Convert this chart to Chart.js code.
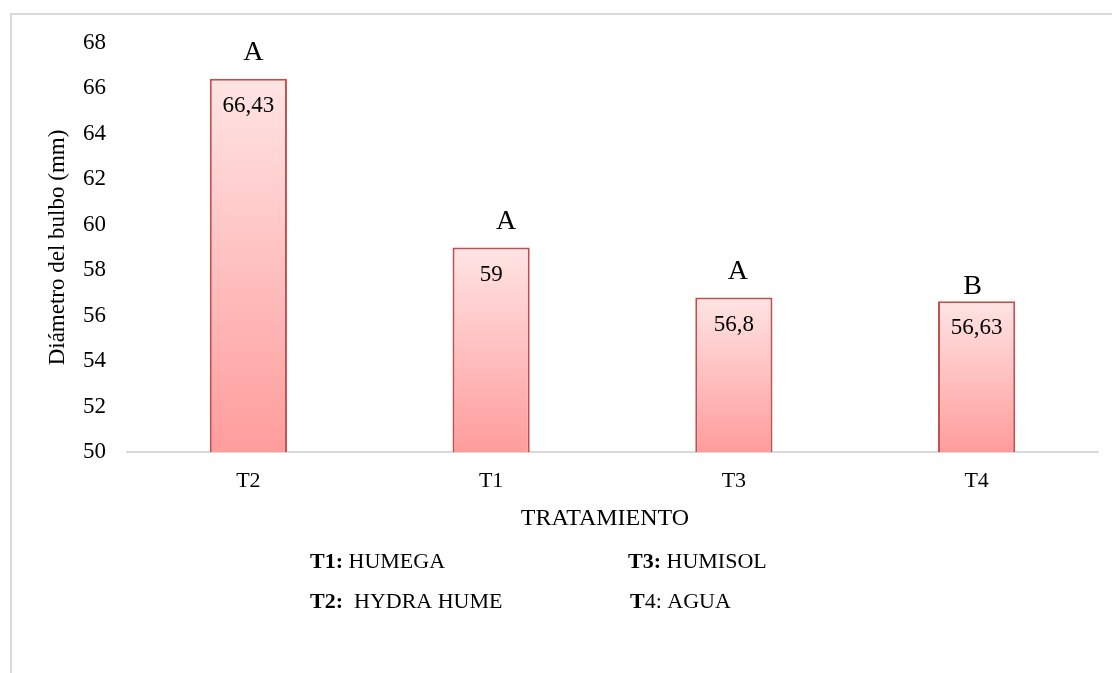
<!DOCTYPE html>
<html>
<head>
<meta charset="utf-8">
<script src="https://cdn.jsdelivr.net/npm/chart.js@4/dist/chart.umd.min.js"></script>
<style>
  html, body { margin: 0; padding: 0; background: #ffffff; }
  #wrap { width: 1112px; height: 673px; position: relative; }
</style>
</head>
<body>
<div id="wrap"><canvas id="c"></canvas></div>
<script>
// ---- data ----
const categories = ['T2', 'T1', 'T3', 'T4'];
const values = [66.43, 59, 56.8, 56.63];
const valueLabels = ['66,43', '59', '56,8', '56,63'];
const letters = ['A', 'A', 'A', 'B'];
const yMin = 50, yMax = 68, yStep = 2;
const yTitle = 'Diámetro del bulbo (mm)';
const xTitle = 'TRATAMIENTO';
const legendRows = [
  [{ b: 'T1:', n: ' HUMEGA' }, { b: 'T3:', n: ' HUMISOL' }],
  [{ b: 'T2:', n: '  HYDRA HUME' }, { b: 'T', n: '4: AGUA' }]
];

const SERIF = '"Liberation Serif", "Times New Roman", serif';

// letter label offsets (presentation only)
const letterDX = [5, 15, 4, -4];
const letterDY = [-26, -26, -26, -15];

function barGradient(ctx) {
  const chart = ctx.chart;
  const y = chart.scales && chart.scales.y;
  if (!chart.chartArea || !y || ctx.dataIndex === undefined) return '#FFC0C0';
  const v = ctx.dataset.data[ctx.dataIndex];
  const top = y.getPixelForValue(v);
  const bot = y.getPixelForValue(yMin);
  const g = chart.ctx.createLinearGradient(0, top, 0, bot);
  g.addColorStop(0, '#FFE4E4');
  g.addColorStop(1, '#FF9C9C');
  return g;
}

const decorPlugin = {
  id: 'decor',
  beforeDraw(chart) {
    const c = chart.ctx;
    c.save();
    c.fillStyle = '#ffffff';
    c.fillRect(0, 0, chart.width, chart.height);
    c.strokeStyle = '#D9D9D9';
    c.lineWidth = 2;
    c.beginPath();
    c.moveTo(11, chart.height + 5);
    c.lineTo(11, 14);
    c.lineTo(chart.width + 5, 14);
    c.stroke();
    c.restore();
  },
  afterDatasetsDraw(chart) {
    const c = chart.ctx;
    const meta = chart.getDatasetMeta(0);
    c.save();
    c.fillStyle = '#000000';
    c.textAlign = 'center';
    c.textBaseline = 'middle';
    meta.data.forEach((bar, i) => {
      c.font = '23px ' + SERIF;
      c.fillText(valueLabels[i], bar.x, bar.y + 27);
      c.font = '28px ' + SERIF;
      c.fillText(letters[i], bar.x + letterDX[i], bar.y + letterDY[i]);
    });
    c.restore();
  },
  afterDraw(chart) {
    const c = chart.ctx;
    const area = chart.chartArea;
    c.save();
    c.fillStyle = '#000000';
    // y title
    c.font = '23px ' + SERIF;
    c.textAlign = 'center';
    c.textBaseline = 'middle';
    c.translate(58, (area.top + area.bottom) / 2);
    c.rotate(-Math.PI / 2);
    c.fillText(yTitle, 0, 0);
    c.restore();

    c.save();
    c.fillStyle = '#000000';
    c.font = '24px ' + SERIF;
    c.textAlign = 'center';
    c.textBaseline = 'middle';
    c.fillText(xTitle, 605, 519);

    // legend text
    c.textAlign = 'left';
    const rowY = [562, 602];
    const colX = [[310, 628], [310, 630]];
    legendRows.forEach((row, r) => {
      row.forEach((item, k) => {
        let x = colX[r][k];
        c.font = 'bold 22px ' + SERIF;
        c.fillText(item.b, x, rowY[r]);
        x += c.measureText(item.b).width;
        c.font = '22px ' + SERIF;
        c.fillText(item.n, x, rowY[r]);
      });
    });
    c.restore();
  }
};

new Chart(document.getElementById('c'), {
  type: 'bar',
  data: {
    labels: categories,
    datasets: [{
      data: values,
      backgroundColor: barGradient,
      borderColor: '#C0504D',
      borderWidth: 2,
      categoryPercentage: 1,
      barPercentage: 0.318
    }]
  },
  options: {
    responsive: true,
    maintainAspectRatio: false,
    animation: false,
    devicePixelRatio: 1,
    layout: { padding: { left: 0, right: 14, top: 43, bottom: 181 } },
    plugins: { legend: { display: false }, tooltip: { enabled: false } },
    scales: {
      x: {
        grid: { display: false, drawTicks: false },
        border: { display: true, color: '#D9D9D9', width: 2 },
        ticks: { color: '#000', font: { family: SERIF, size: 22 }, padding: 16 },
        afterFit(s) { s.height = 40; }
      },
      y: {
        min: yMin, max: yMax,
        grid: { display: false, drawTicks: false },
        border: { display: false },
        ticks: { stepSize: yStep, color: '#000', font: { family: SERIF, size: 23 }, padding: 21 },
        afterFit(s) { s.width = 127; }
      }
    }
  },
  plugins: [decorPlugin]
});
</script>
</body>
</html>
